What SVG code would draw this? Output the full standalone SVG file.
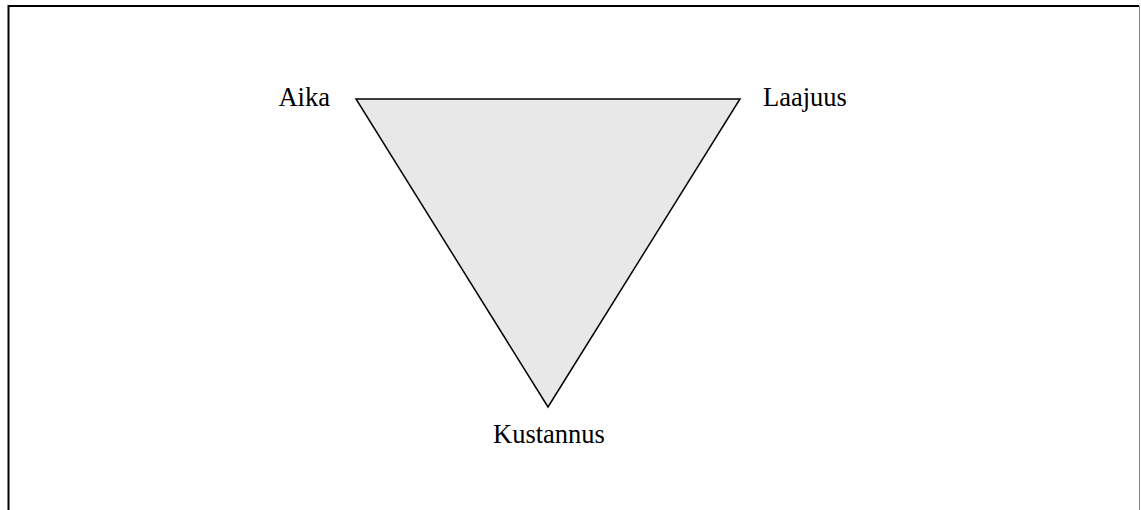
<svg xmlns="http://www.w3.org/2000/svg" width="1141" height="510" viewBox="0 0 1141 510">
<style>
.lbl{font-family:"Liberation Serif","Times New Roman",serif;font-size:26.5px;fill:#000}
</style>
<rect width="1141" height="510" fill="#fff"/>
<path d="M8.5 515 V6 H1139" fill="none" stroke="#000" stroke-width="2"/>
<path d="M1139.5 6 V515" fill="none" stroke="#888" stroke-width="1"/>
<g id="triangle">
<polygon points="356,99 740,99 548,407" fill="#e8e8e8" stroke="#000" stroke-width="1.5" stroke-linejoin="miter"/>
</g>
<g id="aika"><text class="lbl" x="330" y="106" text-anchor="end">Aika</text></g>
<g id="laajuus"><text class="lbl" x="763" y="106">Laajuus</text></g>
<g id="kustannus"><text class="lbl" x="549" y="443" text-anchor="middle">Kustannus</text></g>
<g id="connectors"></g>
</svg>
